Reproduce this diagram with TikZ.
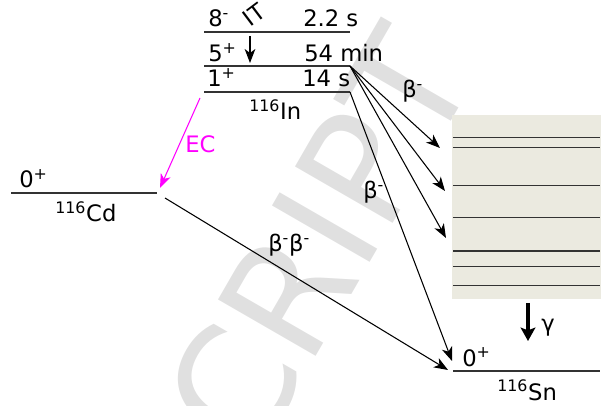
\documentclass[tikz,border=0pt]{standalone}
\usepackage{fontspec}
\setmainfont{DejaVu Sans}
\usetikzlibrary{arrows.meta}
\definecolor{band}{RGB}{235,234,224}
\definecolor{ecpink}{RGB}{255,0,255}

\begin{document}
\begin{tikzpicture}[
x=0.75pt, y=-0.75pt,
lvl/.style={draw=black!80, line width=1.1pt},
txt/.style={inner sep=0pt, anchor=base west, font=\fontsize{17}{20}\selectfont},
decay/.style={draw, line width=0.8pt, -{Stealth[length=10.5pt, width=8pt, inset=3pt]}},
gam/.style={draw, line width=3pt, -{Stealth[length=10pt, width=11pt, inset=2pt]}}
]
\useasboundingbox (0,0) rectangle (604,406);
% watermark
\node[text=black!12, rotate=60, font=\fontsize{116}{116}\selectfont] (mark) at (318,240) {CRIPT};
% excited states of 116Sn
\fill[band] (452,115) rectangle (601,299);
\foreach \y in {137.7,147.7,185.7,217.3,251,266.7,285.3}
  \draw[lvl] (453,\y) -- (600,\y);
% levels
\coordinate (in8a) at (204,32); \coordinate (in8b) at (350,32);
\coordinate (in5a) at (204,66); \coordinate (in5b) at (350,66);
\coordinate (in1a) at (204,92); \coordinate (in1b) at (350,92);
\coordinate (cda) at (11,193); \coordinate (cdb) at (157,193);
\coordinate (sna) at (453,371); \coordinate (snb) at (600,371);
\draw[lvl] (in8a) -- (in8b);
\draw[lvl] (in5a) -- (in5b);
\draw[lvl] (in1a) -- (in1b);
\draw[lvl] (cda) -- (cdb);
\draw[lvl] (sna) -- (snb);
% labels
\node[txt] (spin8) at (208,27) {8\textsuperscript{-}};
\node[txt] (half8) at (303,27) {2.2 s};
\node[txt] (spin5) at (208,62) {5\textsuperscript{+}};
\node[txt] (half5) at (304,62) {54 min};
\node[txt] (spin1) at (207,87) {1\textsuperscript{+}};
\node[txt] (half1) at (302,87) {14 s};
\node[txt] (indium) at (249,120) {\textsuperscript{116}In};
\node[txt] (spincd) at (19,188) {0\textsuperscript{+}};
\node[txt] (cadmium) at (55,222) {\textsuperscript{116}Cd};
\node[txt] (spinsn) at (462,366) {0\textsuperscript{+}};
\node[txt] (tin) at (497,400) {\textsuperscript{116}Sn};
\node[txt, rotate=37, anchor=center] (it) at (254,15) {IT};
\node[txt, text=ecpink] (ec) at (185,153) {EC};
\node[txt] (beta1) at (402,98) {β\textsuperscript{-}};
\node[txt] (beta2) at (363,199) {β\textsuperscript{-}};
\node[txt] (beta3) at (268,252) {β\textsuperscript{-}β\textsuperscript{-}};
\node[txt] (gamma) at (541,331) {γ};
% transitions
\coordinate (itfrom) at (250,36); \coordinate (itto) at (250,63);
\coordinate (ecfrom) at (200,98); \coordinate (ecto) at (160,188);
\coordinate (bbfrom) at (165,198);
\coordinate (t1) at (440,148); \coordinate (t2) at (445,191);
\coordinate (t3) at (446,238); \coordinate (t4) at (452,361);
\coordinate (t5) at (448,370);
\coordinate (g1) at (528,303); \coordinate (g2) at (528,341);
\draw[decay] (itfrom) -- (itto);
\draw[decay, ecpink] (ecfrom) -- (ecto);
\foreach \t in {t1,t2,t3}
  \draw[decay] (in5b) -- (\t);
\draw[decay] (in1b) -- (t4);
\draw[decay] (bbfrom) -- (t5);
\draw[gam] (g1) -- (g2);
\end{tikzpicture}
\end{document}
